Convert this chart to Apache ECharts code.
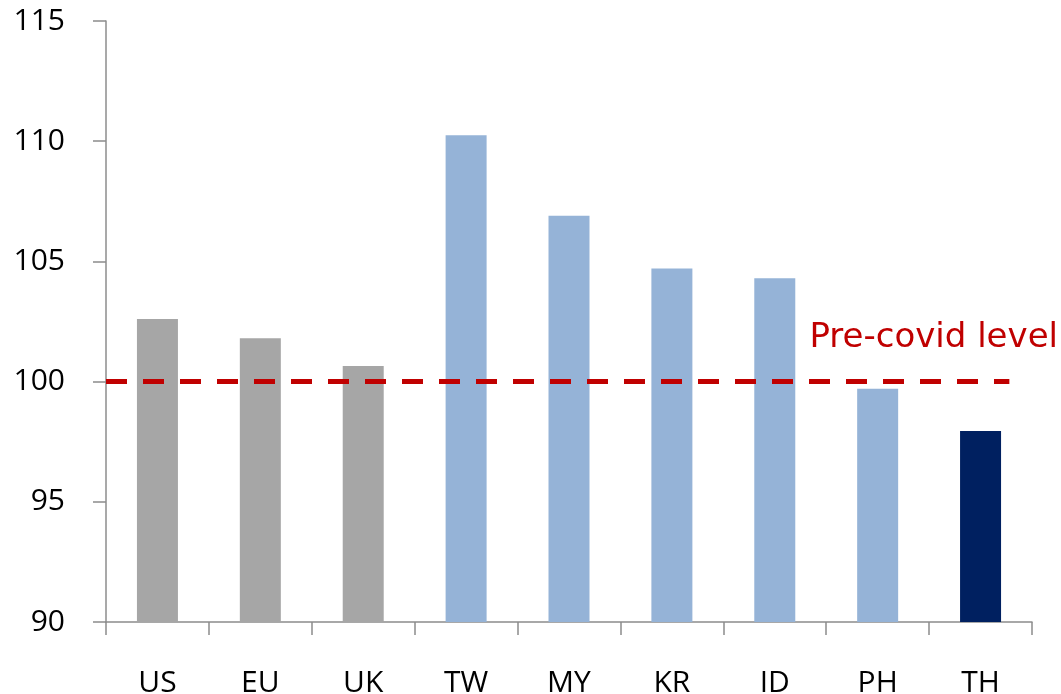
<!DOCTYPE html>
<html>
<head>
<meta charset="utf-8">
<script src="https://cdn.jsdelivr.net/npm/echarts@6/dist/echarts.min.js"></script>
<style>html,body{margin:0;padding:0;background:#fff;}#c{width:1061px;height:694px;}</style>
</head>
<body>
<div id="c"></div>
<script>
var categories = ['US', 'EU', 'UK', 'TW', 'MY', 'KR', 'ID', 'PH', 'TH'];
var values = [102.6, 101.8, 100.65, 110.25, 106.9, 104.7, 104.3, 99.7, 97.95];
var groups = ['dev', 'dev', 'dev', 'asia', 'asia', 'asia', 'asia', 'asia', 'th'];
var yTicks = [90, 95, 100, 105, 110, 115];
var preCovidLevel = 100;
var preCovidSpan = [0, 8.78];
var annotationText = 'Pre-covid level';

var groupColors = { dev: '#A6A6A6', asia: '#95B3D7', th: '#002060' };
var FONT = 'Open Sans';

var chart = echarts.init(document.getElementById('c'), null, { renderer: 'canvas' });
chart.setOption({
  animation: false,
  grid: { left: 106, right: 29, top: 21, bottom: 72, containLabel: false, outerBoundsMode: 'none' },
  xAxis: [{
    type: 'category',
    data: categories,
    axisLine: { lineStyle: { color: '#8C8C8C', width: 1.5 } },
    axisTick: { show: true, length: 13, alignWithLabel: false, lineStyle: { color: '#8C8C8C', width: 1.5 } },
    axisLabel: { color: '#000', fontSize: 30, fontFamily: FONT, margin: 46 }
  }, {
    type: 'value',
    min: 0, max: categories.length,
    show: false
  }],
  yAxis: {
    type: 'value',
    min: yTicks[0], max: yTicks[yTicks.length - 1], interval: 5,
    axisLine: { show: true, lineStyle: { color: '#8C8C8C', width: 1.5 } },
    axisTick: { show: true, length: 13, lineStyle: { color: '#8C8C8C', width: 1.5 } },
    splitLine: { show: false },
    axisLabel: { color: '#000', fontSize: 30, fontFamily: FONT, margin: 41 }
  },
  series: [{
    type: 'bar',
    xAxisIndex: 0,
    barWidth: 41,
    data: values.map(function (v, i) {
      return { value: v, itemStyle: { color: groupColors[groups[i]] } };
    })
  }, {
    type: 'line',
    xAxisIndex: 1,
    symbol: 'none',
    data: [[preCovidSpan[0], preCovidLevel], [preCovidSpan[1], preCovidLevel]],
    lineStyle: { color: '#C00000', width: 5, type: [21, 16] },
    z: 5
  }],
  graphic: [{
    type: 'text',
    right: 3,
    top: 321,
    style: { text: annotationText, fill: '#C00000', font: '34px "DejaVu Sans"' }
  }]
});
</script>
</body>
</html>
